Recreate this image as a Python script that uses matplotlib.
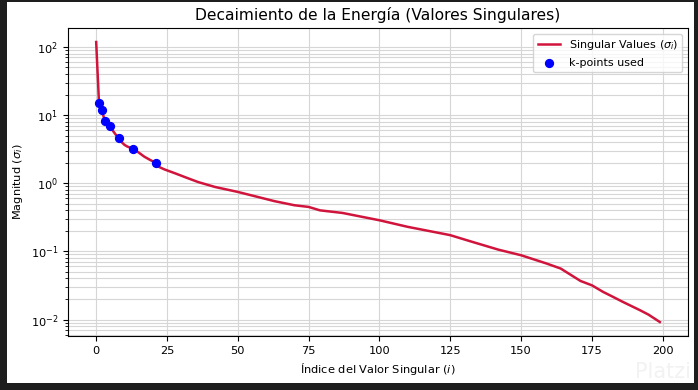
import matplotlib
matplotlib.use("Agg")
import matplotlib.pyplot as plt
from matplotlib.patches import Rectangle

# Data
indices = [0, 1, 2, 3, 4, 5, 6, 7, 8, 9, 10, 11, 12, 13, 15, 17, 19, 21, 22, 24,
           28, 32, 36, 42, 50, 56, 63, 70, 75, 79, 87, 100, 110, 125, 132, 142,
           150, 159, 164, 171, 175, 179, 182, 186, 192, 195, 199]
sigma = [118, 14.8, 11.8, 8.3, 7.4, 6.8, 5.8, 5.1, 4.57, 4.0, 3.65, 3.45, 3.33,
         3.2, 2.82, 2.45, 2.2, 1.99, 1.75, 1.6, 1.39, 1.2, 1.04, 0.88, 0.745,
         0.645, 0.545, 0.475, 0.449, 0.40, 0.366, 0.286, 0.229, 0.173, 0.141,
         0.106, 0.0878, 0.0664, 0.056, 0.0368, 0.0318, 0.0254, 0.022, 0.0181,
         0.0137, 0.0118, 0.0092]
k_points = [1, 2, 3, 5, 8, 13, 21]
k_values = [sigma[indices.index(k)] for k in k_points]

title = "Decaimiento de la Energía (Valores Singulares)"
xlabel = "Índice del Valor Singular ($i$)"
ylabel = "Magnitud ($\\sigma_i$)"
line_label = "Singular Values ($\\sigma_i$)"
pts_label = "k-points used"

fig = plt.figure(figsize=(6.98, 3.90), dpi=100)
fig.patch.set_facecolor("#1e1e1e")
fig.patches.append(Rectangle((7 / 698, 1 - 383 / 390), 687 / 698, 381 / 390,
                             transform=fig.transFigure, facecolor="white",
                             edgecolor="none", zorder=-5))

fig.text(691 / 698, 1 - 372 / 390, "Platzi", ha="right", va="center",
         fontsize=15, color="#f2f2f2", zorder=-4)

ax = fig.add_axes([68 / 698, 1 - 336 / 390, 620 / 698, 308 / 390])
ax.set_zorder(2)
ax.patch.set_alpha(0)
ax.plot(indices, sigma, color="#d0143c", lw=1.8, label=line_label, zorder=2)
ax.scatter(k_points, k_values, color="blue", s=32, label=pts_label, zorder=3)
ax.set_yscale("log")
ax.grid(True, which="both", color="#d6d6d6", lw=0.8)
ax.set_axisbelow(True)

ax.set_title(title, fontsize=11.2)
ax.set_xlabel(xlabel, fontsize=8.2)
ax.set_ylabel(ylabel, fontsize=8.2)
ax.tick_params(labelsize=8.2)
ax.set_xticks([0, 25, 50, 75, 100, 125, 150, 175, 200])
ax.legend(loc="upper right", fontsize=8.0)

fig.savefig("out.png", dpi=100, facecolor=fig.get_facecolor())
